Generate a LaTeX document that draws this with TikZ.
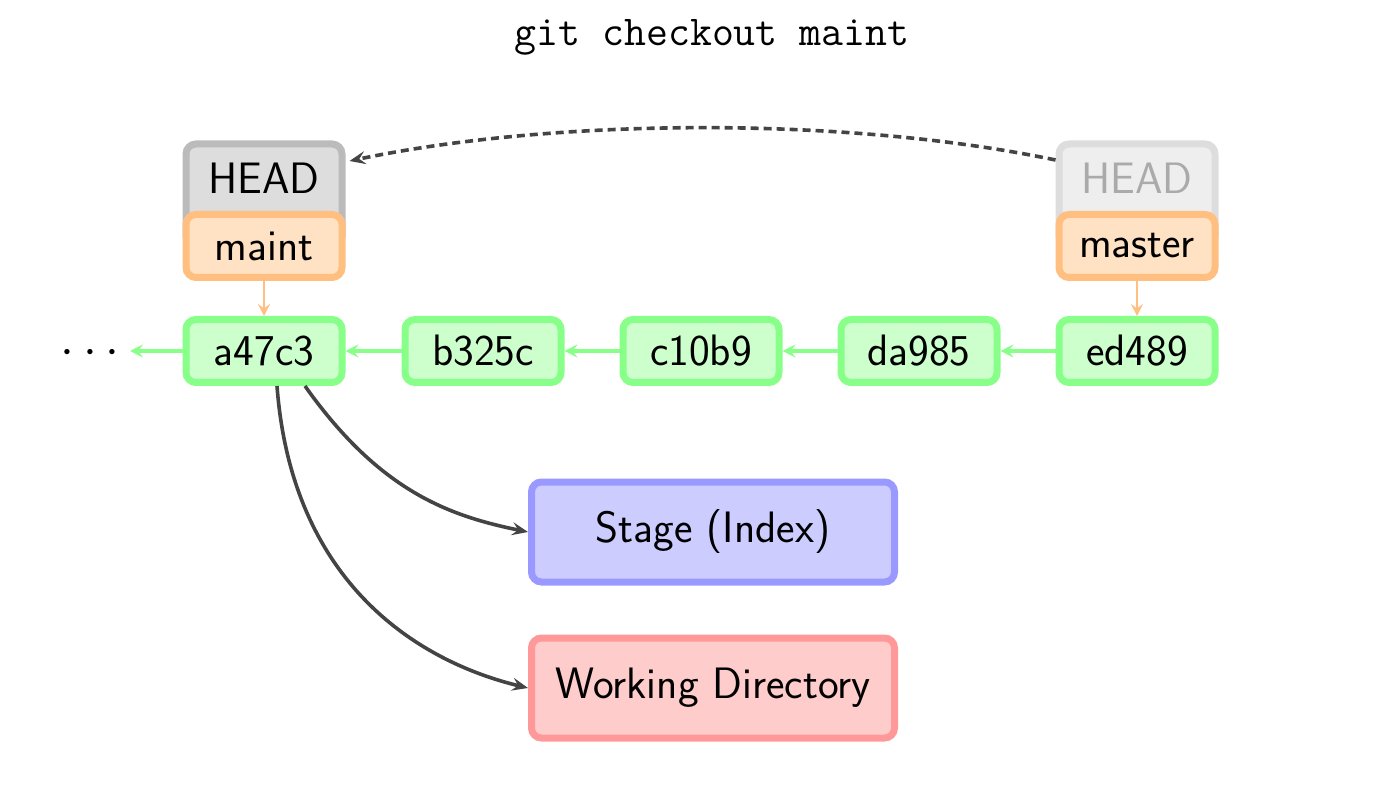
\documentclass[tikz,border=0pt]{standalone}
\usepackage{fontspec}
\setsansfont{lmsans17-regular.otf}
\usetikzlibrary{arrows.meta}
\definecolor{cgreenB}{HTML}{88FF88}
\definecolor{cgreenF}{HTML}{CCFFCC}
\definecolor{corangeB}{HTML}{FFBF80}
\definecolor{corangeF}{HTML}{FFE2C4}
\definecolor{cheadB}{HTML}{BBBBBB}
\definecolor{cheadF}{HTML}{DDDDDD}
\definecolor{cfadeB}{HTML}{DDDDDD}
\definecolor{cfadeF}{HTML}{EEEEEE}
\definecolor{cfadeT}{HTML}{AAAAAA}
\definecolor{cblueB}{HTML}{9999FF}
\definecolor{cblueF}{HTML}{CCCCFF}
\definecolor{credB}{HTML}{FF9999}
\definecolor{credF}{HTML}{FFCCCC}
\definecolor{cdark}{HTML}{444444}
\begin{document}
\begin{tikzpicture}[x=0.5pt,y=-0.5pt,
  box/.style={rectangle, rounded corners=5pt, line width=3.5pt, minimum width=78pt,
    minimum height=31.5pt, inner sep=0pt, font=\sffamily\fontsize{22}{26}\selectfont},
  commit/.style={box, draw=cgreenB, fill=cgreenF},
  branch/.style={box, draw=corangeB, fill=corangeF},
  headbox/.style={box, minimum height=51pt, draw=cheadB, fill=cheadF},
  fadebox/.style={box, minimum height=51pt, draw=cfadeB, fill=cfadeF},
  area/.style={box, minimum width=181.5pt, minimum height=50pt},
  label/.style={inner sep=0pt, font=\sffamily\fontsize{22}{26}\selectfont},
  garrow/.style={draw=cgreenB, line width=1.6pt, -{Stealth[length=6.5pt,width=6.5pt,inset=2.5pt]}},
  oarrow/.style={draw=corangeB, line width=1.4pt, -{Stealth[length=6pt,width=6pt,inset=2.2pt]}},
  karrow/.style={draw=cdark, line width=1.8pt, -{Stealth[length=8pt,width=6.5pt,inset=3pt]}},
  dasharrow/.style={karrow, dash pattern=on 4pt off 2.5pt}
]
\useasboundingbox (0,0) rectangle (1374,790);

\node[inner sep=0pt, font=\ttfamily\fontsize{21.3}{25}\selectfont] (title) at (712,37) {git checkout maint};

% HEAD boxes
\node[headbox] (headL) at (264,195) {};
\node[label] (headLt) at (264,178) {HEAD};
\node[fadebox] (headR) at (1137,195) {};
\node[label, text=cfadeT] (headRt) at (1137,178) {HEAD};

% branches
\node[branch] (maint) at (264,246) {maint};
\node[branch] (master) at (1137,246) {master};

% commits
\node[commit] (a47c3) at (264,351) {a47c3};
\node[commit] (b325c) at (483,351) {b325c};
\node[commit] (c10b9) at (701,351) {c10b9};
\node[commit] (da985) at (919,351) {da985};
\node[commit] (ed489) at (1137,351) {ed489};
\node[inner sep=0pt, font=\fontsize{28}{30}\selectfont] (dots) at (90,353) {$\cdots$};

% areas
\node[area, draw=cblueB, fill=cblueF] (stage) at (713,532) {Stage (Index)};
\node[area, draw=credB, fill=credF] (wd) at (713,688) {Working Directory};

% connectors
\draw[garrow] (b325c.west) -- (a47c3.east);
\draw[garrow] (c10b9.west) -- (b325c.east);
\draw[garrow] (da985.west) -- (c10b9.east);
\draw[garrow] (ed489.west) -- (da985.east);
\draw[garrow] (a47c3.west) -- (130,351);

\draw[oarrow] (maint.south) -- (a47c3.north);
\draw[oarrow] (master.south) -- (ed489.north);

\draw[dasharrow] ([yshift=17.5pt]headR.west) .. controls (850,117) and (560,117) .. ([yshift=17pt,xshift=2pt]headL.east);

\draw[karrow] ([xshift=20.5pt]a47c3.south) .. controls (380,492) and (450,516) .. (stage.west);
\draw[karrow] ([xshift=6.5pt]a47c3.south) .. controls (292,585) and (420,662) .. (wd.west);
\end{tikzpicture}
\end{document}
